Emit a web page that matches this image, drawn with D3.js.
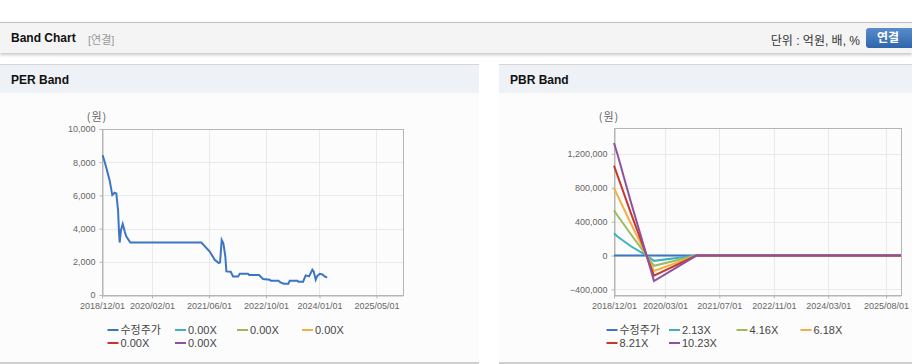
<!DOCTYPE html>
<meta charset="utf-8">
<style>
body { margin: 0; background: #fff; font-family: "Liberation Sans", "Noto Sans CJK KR", sans-serif; }
#page { position: relative; width: 912px; height: 364px; overflow: hidden; }
.topbar { position: absolute; left: 0; top: 22px; width: 912px; height: 30px; background: #f4f4f4;
  border-top: 1px solid #c2c2c2; box-shadow: 0 2px 3px rgba(0,0,0,0.22); }
.topbar .title { position: absolute; left: 11px; top: 8px; font-size: 12px; font-weight: bold; color: #111; }
.topbar .sub { position: absolute; left: 88px; top: 8px; font-size: 11px; color: #999; }
.topbar .unit { position: absolute; right: 52px; top: 8px; font-size: 12px; color: #333; }
.topbar .btn { position: absolute; left: 866px; top: 5px; width: 52px; height: 20px; border-radius: 3px;
  background: linear-gradient(#5a8ccc, #2f65aa); color: #fff; font-size: 12px; font-weight: bold;
  line-height: 20px; text-indent: 11px; }
.panel { position: absolute; top: 64px; height: 297px; background: #fcfcfc; border-top: 1px solid #d6d6d6;
  border-bottom: 2px solid #cfcfcf; }
.panel .head { height: 28px; background: #eef1f6; font-size: 12px; font-weight: bold; color: #111;
  line-height: 30px; padding-left: 11px; }
.panel svg { position: absolute; left: 0; top: 28px; }
.axis text { font-family: "Liberation Sans", sans-serif; font-size: 9px; fill: #666; }
.axis path, .axis line { stroke: #b5b5b5; }
.grid line { stroke: #e9e9e9; stroke-width: 1px; }
.legend text { font-family: "Liberation Sans", "Noto Sans CJK KR", sans-serif; font-size: 11px; fill: #444; }
.unitlabel { font-family: "Noto Sans CJK KR", sans-serif; font-size: 11px; fill: #666; letter-spacing: 1px; }
.line { fill: none; stroke-width: 2px; }
</style>
<body>
<div id="page">
  <div class="topbar">
    <span class="title">Band Chart</span>
    <span class="sub">[연결]</span>
    <span class="unit">단위 : 억원, 배, %</span>
    <div class="btn">연결</div>
  </div>
  <div class="panel" id="per" style="left:0; width:479px;"><div class="head">PER Band</div></div>
  <div class="panel" id="pbr" style="left:499px; width:413px;"><div class="head">PBR Band</div></div>
</div>
<script src="https://d3js.org/d3.v7.min.js"></script>
<script>

var colors = ["#3c74c6", "#3fb0c2", "#9cba5c", "#f2b044", "#c6382c", "#9050a0"];

// PER band
var perNames = ["수정주가", "0.00X", "0.00X", "0.00X", "0.00X", "0.00X"];
var perTicksX = ["2018-12-01", "2020-02-01", "2021-06-01", "2022-10-01", "2024-01-01", "2025-05-01"];
var perTicksY = [0, 2000, 4000, 6000, 8000, 10000];
var perDates = ["2018-12-07", "2019-01-01", "2019-02-04", "2019-02-27", "2019-03-19", "2019-04-02",
  "2019-04-17", "2019-04-25", "2019-05-01", "2019-05-12", "2019-05-27", "2019-06-13", "2019-06-27",
  "2019-07-31", "2021-03-28", "2021-06-08", "2021-07-20", "2021-08-24", "2021-09-04", "2021-09-18",
  "2021-10-02", "2021-10-19", "2021-10-28", "2021-12-04", "2021-12-24", "2022-02-05", "2022-02-19",
  "2022-05-01", "2022-05-10", "2022-08-03", "2022-09-06", "2022-11-02", "2022-11-11", "2023-01-15",
  "2023-02-01", "2023-03-02", "2023-04-10", "2023-04-22", "2023-06-26", "2023-07-05", "2023-08-14",
  "2023-09-05", "2023-10-04", "2023-11-01", "2023-11-13", "2023-11-30", "2023-12-11", "2024-01-03",
  "2024-01-26", "2024-02-15", "2024-03-06"];
var perPrice = [8420, 7820, 6920, 6020, 6160, 6120,
  5120, 3820, 3160, 3920, 4280, 3820, 3520,
  3160, 3160, 2620, 2120, 1920, 1960, 3320,
  3120, 2320, 1420, 1400, 1120, 1120, 1280,
  1280, 1200, 1200, 960, 920, 860, 860,
  760, 680, 680, 860, 860, 800, 800,
  1180, 1120, 1520, 1400, 920, 1120, 1280,
  1240, 1120, 1040];

// PBR band
var pbrNames = ["수정주가", "2.13X", "4.16X", "6.18X", "8.21X", "10.23X"];
var pbrTicksX = ["2018-12-01", "2020-03-01", "2021-07-01", "2022-11-01", "2024-03-01", "2025-08-01"];
var pbrTicksY = [-400000, 0, 400000, 800000, 1200000];
var pbrDates = ["2018-12-01", "2019-01-01", "2019-05-01", "2019-09-19", "2019-11-24", "2020-12-07", "2025-12-13"];
var pbrPrice = [0, 0, 0, 0, 0, 0, 0];
var pbr213 = [264000, 225000, 110000, 0, -62000, 0, 0];
var pbr416 = [533000, 473000, 252000, 0, -120000, 0, 0];
var pbr618 = [797000, 710000, 379000, 0, -182000, 0, 0];
var pbr821 = [1061000, 947000, 501000, 0, -236000, 0, 0];
var pbr1023 = [1329000, 1195000, 631000, 0, -300000, 0, 0];

var parseDate = d3.timeParse("%Y-%m-%d");
var fmtTick = d3.timeFormat("%Y/%m/%d");

function series(dates, values) {
  return dates.map(function(d, i) { return {date: parseDate(d), value: values[i]}; });
}

function drawBand(id, cfg) {
  var w = cfg.width, h = 271;
  var svg = d3.select(id).append("svg").attr("width", w).attr("height", h);
  var x = d3.scaleTime()
      .domain([parseDate("2018-12-01"), parseDate(cfg.endDate)])
      .range([cfg.left, cfg.right]);
  var y = d3.scaleLinear().domain(cfg.yDomain).range([202, cfg.top]);
  var ticksX = cfg.ticksX.map(parseDate);

  var grid = svg.append("g").attr("class", "grid");
  grid.selectAll(".gy").data(cfg.ticksY).enter().append("line")
      .attr("x1", cfg.left).attr("x2", cfg.right)
      .attr("y1", function(d) { return Math.round(y(d)) + 0.5; })
      .attr("y2", function(d) { return Math.round(y(d)) + 0.5; });
  grid.selectAll(".gx").data(ticksX).enter().append("line")
      .attr("y1", cfg.top).attr("y2", 202)
      .attr("x1", function(d) { return Math.round(x(d)) + 0.5; })
      .attr("x2", function(d) { return Math.round(x(d)) + 0.5; });

  svg.append("g")
      .attr("class", "axis")
      .attr("transform", "translate(0,202.5)")
      .call(d3.axisBottom(x).tickValues(ticksX).tickFormat(fmtTick).tickSize(3).tickPadding(4).tickSizeOuter(0));

  svg.append("g")
      .attr("class", "axis")
      .attr("transform", "translate(" + (cfg.left + 0.5) + ",0)")
      .call(d3.axisLeft(y).tickValues(cfg.ticksY).tickFormat(d3.format(",")).tickSize(3).tickPadding(4).tickSizeOuter(0));

  svg.append("rect")
      .attr("x", cfg.left + 0.5).attr("y", cfg.top + 0.5)
      .attr("width", cfg.right - cfg.left).attr("height", 202 - cfg.top)
      .attr("fill", "none").attr("stroke", "#b5b5b5");

  svg.append("text").attr("class", "unitlabel")
      .attr("x", cfg.unitX).attr("y", 28).attr("text-anchor", "middle")
      .text("(원)");

  var line = d3.line()
      .x(function(d) { return x(d.date); })
      .y(function(d) { return y(d.value); });

  cfg.data.forEach(function(s, i) {
    if (!s.length) return;
    svg.append("path")
        .attr("class", "line")
        .attr("d", line(s))
        .style("stroke", colors[i]);
  });

  var legend = svg.append("g").attr("class", "legend");
  cfg.names.forEach(function(name, i) {
    var lx = cfg.legendCols[i % 4], ly = i < 4 ? 237 : 250;
    legend.append("rect")
        .attr("x", lx).attr("y", ly - 1)
        .attr("width", 11).attr("height", 2)
        .style("fill", colors[i]);
    legend.append("text")
        .attr("x", lx + 13).attr("y", ly + 4)
        .text(name);
  });
}

drawBand("#per", {
  width: 479, left: 102, right: 403, top: 36, endDate: "2025-12-14",
  yDomain: [0, 10000], ticksX: perTicksX, ticksY: perTicksY, unitX: 97,
  names: perNames, legendCols: [107.5, 175, 237, 302],
  data: [series(perDates, perPrice), [], [], [], [], []]
});

drawBand("#pbr", {
  width: 413, left: 115, right: 402, top: 35, endDate: "2025-12-13",
  yDomain: [-465000, 1505000], ticksX: pbrTicksX, ticksY: pbrTicksY, unitX: 110,
  names: pbrNames, legendCols: [107.5, 170, 237.5, 301.5],
  data: [series(pbrDates, pbrPrice), series(pbrDates, pbr213), series(pbrDates, pbr416),
         series(pbrDates, pbr618), series(pbrDates, pbr821), series(pbrDates, pbr1023)]
});

</script>
</body>
